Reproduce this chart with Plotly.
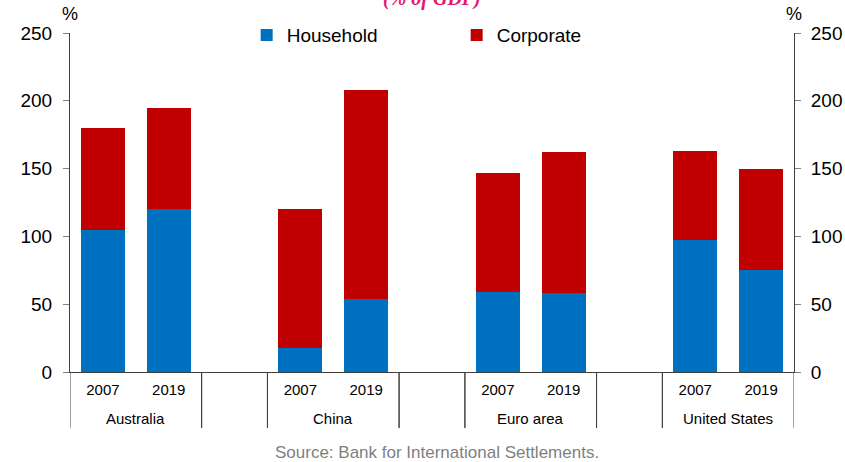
import plotly.graph_objects as go

# Debt by sector, % of GDP
regions = ["Australia", "Australia", "", "China", "China", "",
           "Euro area", "Euro area", "", "United States", "United States"]
years = ["2007", "2019", "", "2007", "2019", "",
         "2007", "2019", "", "2007", "2019"]
household = [105, 120, None, 18, 54, None, 59, 58, None, 97, 75]
corporate = [75, 75, None, 102, 154, None, 88, 104, None, 66, 75]

BLUE = "#0070C0"
RED = "#C00000"
FONT = "Liberation Sans, Arial, sans-serif"

slots = list(range(len(years)))

fig = go.Figure()

fig.add_trace(go.Bar(
    x=slots, y=household, name="Household",
    marker=dict(color=BLUE, line=dict(width=0))
))
fig.add_trace(go.Bar(
    x=slots, y=corporate, name="Corporate",
    marker=dict(color=RED, line=dict(width=0))
))
# empty trace so the right-hand axis gets drawn
fig.add_trace(go.Scatter(x=[slots[0]], y=[None], yaxis="y2",
                         showlegend=False, hoverinfo="skip"))

# group dividers below the axis and the region labels
shapes = []
annotations = []
i = 0
while i < len(regions):
    j = i
    while j + 1 < len(regions) and regions[j + 1] == regions[i]:
        j += 1
    if regions[i]:
        annotations.append(dict(
            text=regions[i], x=(i + j) / 2, y=-0.136, xref="x", yref="paper",
            showarrow=False, yanchor="middle", font=dict(size=15, family=FONT)))
    for edge in (i - 0.5, j + 0.5):
        shapes.append(dict(type="line", xref="x", yref="paper",
                           x0=edge, x1=edge, y0=0, y1=-0.165,
                           line=dict(color="#404040", width=1)))
    i = j + 1

annotations += [
    dict(text="<b><i>(% of GDP)</i></b>", x=0.5, y=1.103, xref="paper", yref="paper",
         xanchor="center", yanchor="middle",
         showarrow=False, font=dict(size=20, color="#E5176E", family="Liberation Serif, serif")),
    dict(text="%", x=0, y=1.02, xref="paper", yref="paper", xanchor="center", yanchor="bottom",
         showarrow=False, font=dict(size=18, family=FONT)),
    dict(text="%", x=1, y=1.02, xref="paper", yref="paper", xanchor="center", yanchor="bottom",
         showarrow=False, font=dict(size=18, family=FONT)),
    dict(text="Source: Bank for International Settlements.", x=0.507, y=-0.236,
         xref="paper", yref="paper", xanchor="center", yanchor="middle",
         showarrow=False, font=dict(size=17, color="#7F7F7F", family=FONT)),
]

yaxis_style = dict(
    range=[0, 250], dtick=50, automargin=False,
    showline=True, linecolor="#404040", linewidth=1,
    ticks="outside", ticklen=6, tickcolor="#808080",
    showgrid=False, zeroline=False,
    tickfont=dict(size=19, family=FONT),
)

fig.update_layout(
    width=845, height=462,
    barmode="stack",
    bargap=0.33,
    plot_bgcolor="white",
    paper_bgcolor="white",
    margin=dict(l=70, r=51, t=33, b=90),
    font=dict(family=FONT, color="black", size=16),
    showlegend=True,
    legend=dict(
        orientation="h", x=0.244, y=0.994, xanchor="left", yanchor="middle",
        traceorder="normal",
        font=dict(size=19, family=FONT), itemwidth=30, entrywidth=165,
        bgcolor="rgba(0,0,0,0)"
    ),
    xaxis=dict(
        range=[-0.5, len(years) - 0.5], automargin=False,
        tickmode="array", tickvals=slots, ticktext=years,
        showline=True, linecolor="#404040", linewidth=1,
        ticks="", ticklabelstandoff=4,
        tickfont=dict(size=15, family=FONT),
        showgrid=False, zeroline=False,
    ),
    yaxis=dict(yaxis_style, ticklabelstandoff=7),
    yaxis2=dict(yaxis_style, overlaying="y", side="right", ticklabelstandoff=6),
    shapes=shapes,
    annotations=annotations,
)

# drop the page's default body margin so the figure sits at the window's corner
fig.write_html("out.html", config={"displayModeBar": False},
               post_script="document.body.style.margin='0';")
